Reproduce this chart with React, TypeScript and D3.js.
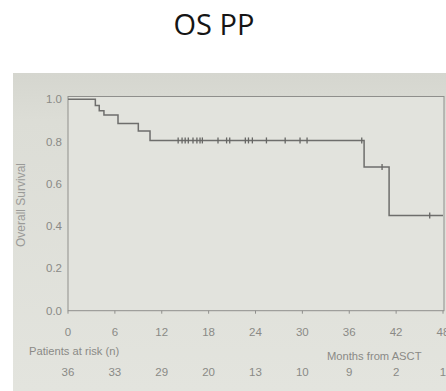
import React from "react";
import * as d3 from "d3";

const title = "OS PP";
const yTicks = [0, 0.2, 0.4, 0.6, 0.8, 1.0];
const xTicks = [0, 6, 12, 18, 24, 30, 36, 42, 48];
const atRisk = [36, 33, 29, 20, 13, 10, 9, 2, 1];
// step curve (months, survival)
const stepTimes = [0, 3.5, 4.0, 4.6, 6.4, 9.0, 10.5, 37.9, 41.1, 48];
const stepSurv = [1.0, 0.97, 0.945, 0.925, 0.885, 0.85, 0.805, 0.68, 0.45, 0.45];
// censored observations
const censorTimes = [14.1, 14.6, 15.0, 15.4, 16.0, 16.5, 16.9, 17.2, 19.2, 20.3, 20.7, 22.7, 23.1, 23.6, 25.4, 27.8, 29.7, 30.6, 37.6, 40.2, 46.3];

const W = 446, H = 391;
const L = 68, R = 444, T = 99.2, B = 310.7;

function survAt(t: number) {
  let s = stepSurv[0];
  for (let i = 0; i < stepTimes.length; i++) if (stepTimes[i] <= t) s = stepSurv[i];
  return s;
}

export default function App() {
  const x = d3.scaleLinear().domain([0, 48]).range([L, 443]);
  const y = d3.scaleLinear().domain([0, 1]).range([B, T]);
  const line = d3.line<number>().x((_, i) => x(stepTimes[i])).y((d) => y(d)).curve(d3.curveStepAfter);
  const axisColor = "#8f8f8c";
  const textColor = "#8a8a86";
  const font = "'Liberation Sans', Arial, sans-serif";
  return (
    <svg width={W} height={H} style={{ position: "absolute", left: 0, top: 0 }} xmlns="http://www.w3.org/2000/svg">
      <defs>
        <linearGradient id="bg" x1="0" y1="0" x2="0" y2="1">
          <stop offset="0" stopColor="#d5d6cf" />
          <stop offset="0.15" stopColor="#dcddd6" />
          <stop offset="1" stopColor="#e3e4de" />
        </linearGradient>
      </defs>
      <rect x={0} y={0} width={W} height={H} fill="#ffffff" />
      <text x={214} y={35} textAnchor="middle" fontFamily="'Open Sans', sans-serif" fontSize={29} fill="#151515">{title}</text>
      <rect x={13} y={73} width={W - 13} height={H - 73} fill="url(#bg)" />
      <rect x={L} y={96.5} width={R - L} height={B - 96.5} fill="#e2e3dd" stroke={axisColor} strokeWidth={1} />
      {yTicks.map((t) => (
        <text key={t} x={62} y={y(t) + 4} textAnchor="end" fontFamily={font} fontSize={11.5} fill={textColor}>{t.toFixed(1)}</text>
      ))}
      {xTicks.map((t) => (
        <g key={t}>
          <line x1={x(t)} x2={x(t)} y1={B} y2={B + 3} stroke={axisColor} strokeWidth={1} />
          <text x={x(t)} y={336} textAnchor="middle" fontFamily={font} fontSize={11.5} fill={textColor}>{t}</text>
        </g>
      ))}
      <text transform={`translate(25,205) rotate(-90)`} textAnchor="middle" fontFamily={font} fontSize={12} fill="#9a9a97">Overall Survival</text>
      <text x={29} y={355} fontFamily={font} fontSize={11.2} fill={textColor}>Patients at risk (n)</text>
      <text x={327} y={360} fontFamily={font} fontSize={11.2} fill={textColor}>Months from ASCT</text>
      {atRisk.map((n, i) => (
        <text key={i} x={x(xTicks[i])} y={376} textAnchor="middle" fontFamily={font} fontSize={11.5} fill={textColor}>{n}</text>
      ))}
      <path d={line(stepSurv) || ""} fill="none" stroke="#6e6e6c" strokeWidth={1.5} />
      {censorTimes.map((t, i) => (
        <line key={i} x1={x(t)} x2={x(t)} y1={y(survAt(t)) - 3} y2={y(survAt(t)) + 3} stroke="#666664" strokeWidth={1.3} />
      ))}
    </svg>
  );
}
